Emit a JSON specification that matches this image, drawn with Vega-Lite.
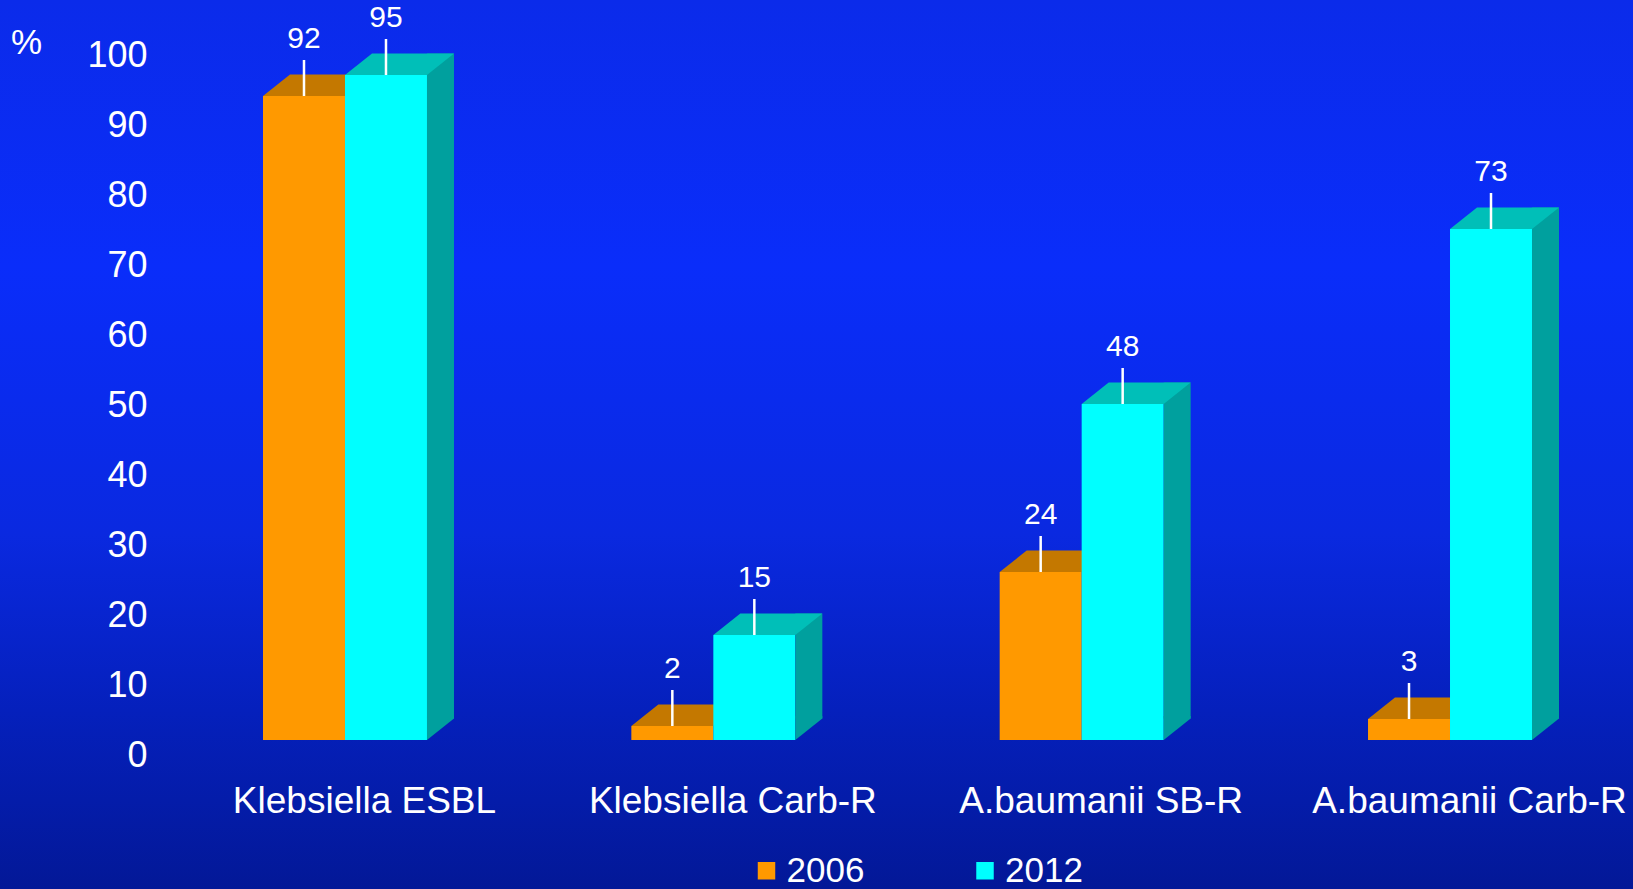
{
  "$schema": "https://vega.github.io/schema/vega-lite/v6.json",
  "width": 1633,
  "height": 889,
  "autosize": {"type": "none"},
  "padding": 0,
  "background": "#0A2AE0",
  "config": {
    "view": {"stroke": null},
    "font": "Liberation Sans",
    "text": {"font": "Liberation Sans"}
  },
  "datasets": {
    "bars": [
      {"category": "Klebsiella ESBL", "year": "2006", "value": 92},
      {"category": "Klebsiella ESBL", "year": "2012", "value": 95},
      {"category": "Klebsiella Carb-R", "year": "2006", "value": 2},
      {"category": "Klebsiella Carb-R", "year": "2012", "value": 15},
      {"category": "A.baumanii SB-R", "year": "2006", "value": 24},
      {"category": "A.baumanii SB-R", "year": "2012", "value": 48},
      {"category": "A.baumanii Carb-R", "year": "2006", "value": 3},
      {"category": "A.baumanii Carb-R", "year": "2012", "value": 73}
    ]
  },
  "encoding": {
    "x": {
      "field": "category",
      "type": "nominal",
      "sort": null,
      "scale": {"type": "band", "domain": ["Klebsiella ESBL", "Klebsiella Carb-R", "A.baumanii SB-R", "A.baumanii Carb-R"], "range": [263, 1532], "paddingInner": 0.5548, "paddingOuter": 0},
      "axis": {
        "title": null,
        "orient": "bottom",
        "offset": -77,
        "zindex": 2,
        "labelBaseline": "alphabetic",
        "labelPadding": 0,
        "ticks": false,
        "domain": false,
        "grid": false,
        "labelAngle": 0,
        "labelFontSize": 37,
        "labelColor": "white",
        "labelFont": "Liberation Sans",
        "labelOffset": 19.5,
        "labelLimit": 0
      }
    },
    "xOffset": {
      "field": "year",
      "type": "nominal",
      "scale": {"type": "band", "domain": ["2006", "2012"], "paddingInner": 0, "paddingOuter": 0}
    },
    "y": {
      "field": "value",
      "type": "quantitative",
      "scale": {"domain": [0, 100], "range": [740, 40], "nice": false, "zero": true},
      "axis": {
        "orient": "left",
        "offset": -147,
        "zindex": 2,
        "domain": false,
        "ticks": false,
        "grid": false,
        "labelPadding": 0,
        "labelFontSize": 36,
        "labelColor": "white",
        "labelFont": "Liberation Sans",
        "labelOffset": 15.5,
        "labelBaseline": "middle",
        "values": [0, 10, 20, 30, 40, 50, 60, 70, 80, 90, 100],
        "title": "%",
        "titleAngle": 0,
        "titleX": -121,
        "titleY": 42,
        "titleFontSize": 35,
        "titleColor": "white",
        "titleFont": "Liberation Sans",
        "titleFontWeight": "normal",
        "titleBaseline": "middle",
        "titleAlign": "center"
      }
    }
  },
  "layer": [
    {
      "data": {"values": [{}]},
      "mark": {
        "type": "rect",
        "fill": {
          "gradient": "linear",
          "x1": 0, "y1": 0, "x2": 0, "y2": 1,
          "stops": [
            {"offset": 0, "color": "#0B2BEA"},
            {"offset": 0.3, "color": "#0A2DFA"},
            {"offset": 0.6, "color": "#0A29E0"},
            {"offset": 0.8, "color": "#0520BC"},
            {"offset": 1, "color": "#031897"}
          ]
        }
      },
      "encoding": {"x": null, "xOffset": null, "y": null}
    },
    {
      "data": {"name": "bars"},
      "transform": [{"filter": "datum.year === '2006'"}],
      "mark": {"type": "bar", "opacity": 1},
      "encoding": {
        "color": {
          "field": "year",
          "type": "nominal",
          "scale": {"domain": ["2006", "2012"], "range": ["#FF9900", "#00FFFF"]},
          "legend": {
            "orient": "none",
            "legendX": 749,
            "legendY": 853,
            "direction": "horizontal",
            "columns": 2,
            "title": null,
            "symbolType": "square",
            "symbolSize": 306,
            "symbolStrokeWidth": 0,
            "symbolOpacity": 1,
            "labelFontSize": 35,
            "labelColor": "white",
            "labelFont": "Liberation Sans",
            "columnPadding": 102.5,
            "labelOffset": 2.5,
            "padding": 0
          }
        }
      }
    },
    {
      "data": {"name": "bars"},
      "transform": [{"filter": "datum.year === '2006'"}],
      "mark": {"type": "point", "shape": "M-0.82,0L0.82,0L1.36,-0.43L-0.28,-0.43Z", "size": 10000, "filled": true, "opacity": 1, "color": "#C47800", "strokeWidth": 0}
    },
    {
      "data": {"name": "bars"},
      "transform": [{"filter": "datum.year === '2012'"}],
      "mark": {"type": "bar", "opacity": 1},
      "encoding": {
        "color": {"field": "year", "type": "nominal"}
      }
    },
    {
      "data": {"name": "bars"},
      "transform": [{"filter": "datum.year === '2012'"}],
      "mark": {"type": "bar", "width": 27, "xOffset": 95.5, "yOffset": -21.5, "y2Offset": -21.5, "color": "#00A09E", "opacity": 1},
      "encoding": {"xOffset": null}
    },
    {
      "data": {"name": "bars"},
      "transform": [{"filter": "datum.year === '2012'"}],
      "mark": {"type": "point", "shape": "M0.82,0L0.82,-0.48L1.36,-0.48L1.36,-0.43Z", "size": 10000, "filled": true, "opacity": 1, "color": "#00A09E", "strokeWidth": 0},
      "encoding": {"y": {"datum": 0}}
    },
    {
      "data": {"name": "bars"},
      "transform": [{"filter": "datum.year === '2012'"}],
      "mark": {"type": "point", "shape": "M-0.82,0L0.82,0L1.36,-0.43L-0.28,-0.43Z", "size": 10000, "filled": true, "opacity": 1, "color": "#00BFB8", "strokeWidth": 0}
    },
    {
      "data": {"name": "bars"},
      "mark": {"type": "rule", "color": "white", "strokeWidth": 2.5, "y2Offset": -36},
      "encoding": {"y2": {"field": "value"}}
    },
    {
      "data": {"name": "bars"},
      "mark": {"type": "text", "dy": -57, "fontSize": 30, "color": "white", "font": "Liberation Sans", "baseline": "middle"},
      "encoding": {"text": {"field": "value", "type": "quantitative"}}
    }
  ]
}
